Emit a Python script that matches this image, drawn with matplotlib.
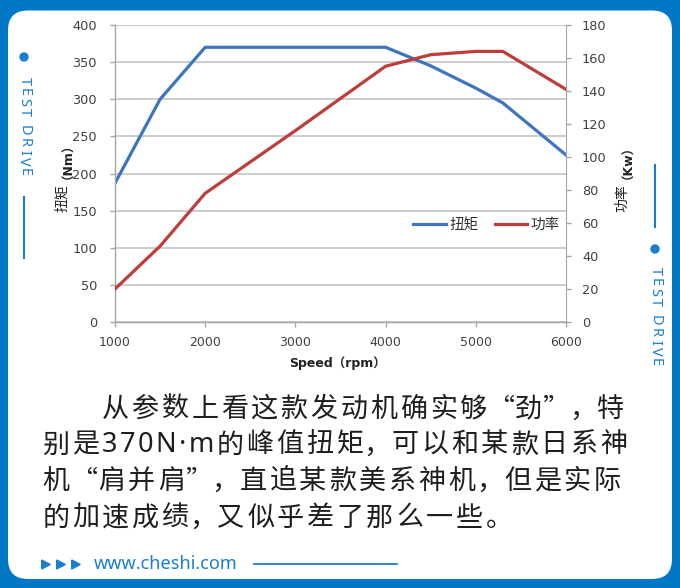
import matplotlib
matplotlib.use('Agg')
import matplotlib.pyplot as plt
from matplotlib.patches import FancyBboxPatch, Circle, Polygon
from matplotlib.font_manager import FontProperties, findfont, get_font

# ---------------- data ----------------
rpm = [1000, 1500, 2000, 3000, 4000, 4500, 5000, 5300, 6000]
torque_nm = [187, 300, 370, 370, 370, 345, 315, 295, 225]
power_kw = [20, 46, 78, 116, 155, 162, 164, 164, 141]
x_ticks = [1000, 2000, 3000, 4000, 5000, 6000]
torque_ticks = list(range(0, 401, 50))
power_ticks = list(range(0, 181, 20))
series_names = ['扭矩', '功率']
x_label = 'Speed（rpm）'
torque_unit = '（Nm）'
power_unit = '（Kw）'
paragraph_lines = [
    '从参数上看这款发动机确实够“劲”，特',
    '别是370N·m的峰值扭矩，可以和某款日系神',
    '机“肩并肩”，直追某款美系神机，但是实际',
    '的加速成绩，又似乎差了那么一些。',
]
side_text = 'TEST DRIVE'
site_url = 'www.cheshi.com'

# ---------------- style ----------------
W, H, DPI = 680, 588, 100
FRAME = '#0078C6'
ACCENT = '#1A7ED0'
BLUE = '#3E75BE'
RED = '#BE3D3B'
GRID = '#BFBFBF'
AXC = '#A6A6A6'
TXT = '#404040'

fig = plt.figure(figsize=(W / DPI, H / DPI), dpi=DPI, facecolor=FRAME)
bg = fig.add_axes([0, 0, 1, 1], zorder=0)
bg.set_xlim(0, W)
bg.set_ylim(H, 0)
bg.axis('off')
bg.add_patch(FancyBboxPatch((8, 10.5), W - 16, 568.5,
                            boxstyle='round,pad=0,rounding_size=20',
                            fc='white', ec='none'))

# ---------------- chart ----------------
L, R, T, B = 115, 566, 25, 322
ax = fig.add_axes([L / W, 1 - B / H, (R - L) / W, (B - T) / H], zorder=1)
ax.patch.set_visible(False)
l1, = ax.plot(rpm, torque_nm, color=BLUE, lw=2.3)
ax.set_xlim(1000, 6000)
ax.set_ylim(0, 400)
ax.set_xticks(x_ticks)
ax.set_yticks(torque_ticks)
ax.grid(axis='y', color=GRID, lw=1.1)
ax.set_axisbelow(True)
for s in ('top', 'right'):
    ax.spines[s].set_visible(False)
for s in ('left', 'bottom'):
    ax.spines[s].set_color(AXC)
    ax.spines[s].set_linewidth(1.0)
ax.tick_params(axis='x', direction='out', length=3.6, width=1, color=AXC,
               labelsize=9, labelcolor=TXT, pad=6.5)
ax.tick_params(axis='y', direction='out', length=3.6, width=1, color=AXC,
               labelsize=9.3, labelcolor=TXT, pad=9.4)

ax2 = ax.twinx()
ax2.patch.set_visible(False)
l2, = ax2.plot(rpm, power_kw, color=RED, lw=2.3)
ax2.set_ylim(0, 180)
ax2.set_yticks(power_ticks)
for s in ('top', 'left', 'bottom'):
    ax2.spines[s].set_visible(False)
ax2.spines['right'].set_color(AXC)
ax2.tick_params(axis='y', direction='out', length=3.6, width=1, color=AXC,
                labelsize=9.3, labelcolor=TXT, pad=7.9)

fp_cjk_lab = FontProperties(family='Noto Sans CJK SC', size=10)
fp_bold = FontProperties(family=['DejaVu Sans', 'Noto Sans CJK SC'], weight='bold', size=9)

for xc, name, unit in ((62, series_names[0], torque_unit), (622, series_names[1], power_unit)):
    bg.text(xc, 184, name, rotation=90, ha='center', va='top',
            fontproperties=fp_cjk_lab, color='#222222')
    bg.text(xc, 179, unit, rotation=90, ha='center', va='bottom',
            fontproperties=fp_bold, color='#222222')

bg.text(337, 363, x_label, ha='center', va='center', fontproperties=fp_bold, color='#222222')

fp_leg = FontProperties(family='Noto Sans CJK SC', size=10.5)
fig.legend([l1, l2], series_names, loc='center',
           bbox_to_anchor=(486.5 / W, 1 - 225 / H), frameon=False, ncol=2,
           prop=fp_leg, handlelength=2.2, handletextpad=0.25, columnspacing=1.1,
           labelcolor='#333333')

# ---------------- text helpers ----------------
def adv_px(ch, fp):
    f = get_font(findfont(fp))
    f.set_size(fp.get_size_in_points(), DPI)
    return f.load_char(ord(ch)).linearHoriAdvance / 65536

# paragraph
fp_par = FontProperties(family='Noto Sans CJK SC', size=19.5)
fp_par_latin = FontProperties(family='Noto Sans', size=19.5)
CJK_ADV, PUNCT_ADV, LS = 29.8, 26.0, 2.5
line_x0 = [100.5, 41, 41, 41]
baselines = [417, 452.5, 489, 525.5]
for text_line, x0, yb in zip(paragraph_lines, line_x0, baselines):
    x = x0
    for ch in text_line:
        fp = fp_par
        if ch in '“”，':
            w = PUNCT_ADV
        elif ord(ch) > 0x2E7F:
            w = CJK_ADV
        else:
            fp = fp_par_latin
            w = adv_px(ch, fp) + LS
        bg.text(x + w / 2, yb, ch, ha='center', va='baseline',
                fontproperties=fp, color='#1E1E1E')
        x += w

# side "TEST DRIVE"
fp_side = FontProperties(family='Noto Sans', size=10.5)
def vertical_spaced(xc, y0, s, gap=2.4):
    y = y0
    for ch in s:
        a = adv_px(ch, fp_side)
        if ch != ' ':
            bg.text(xc, y, ch, rotation=-90, rotation_mode='anchor', ha='left',
                    va='center', fontproperties=fp_side, color=ACCENT)
        y += a + gap

vertical_spaced(24, 77, side_text)
vertical_spaced(655, 267, side_text)
bg.add_patch(Circle((24, 57), 4, color=ACCENT))
bg.add_patch(Circle((655, 249), 4, color=ACCENT))
bg.plot([24, 24], [197, 258], color=ACCENT, lw=1.5)
bg.plot([655, 655], [165, 227], color=ACCENT, lw=1.5)

# bottom url row
for i in range(3):
    x0 = 41.7 + i * 15
    bg.add_patch(Polygon([(x0, 560), (x0 + 8.6, 564.5), (x0, 569)], closed=True,
                         color=ACCENT))
bg.text(94, 564, site_url, ha='left', va='center',
        fontproperties=FontProperties(family='Noto Sans', size=13), color=ACCENT)
bg.plot([254, 397], [564, 564], color=ACCENT, lw=1.3)

fig.savefig('out.png', dpi=DPI, facecolor=FRAME)
